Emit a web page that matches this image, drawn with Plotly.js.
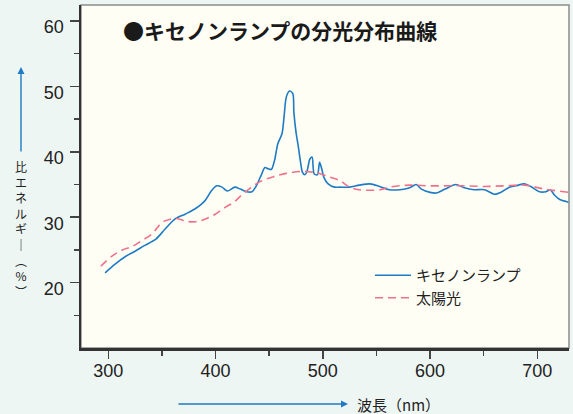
<!DOCTYPE html>
<html>
<head>
<meta charset="utf-8">
<script src="https://cdn.plot.ly/plotly-3.0.1.min.js"></script>
<style>
  html, body { margin: 0; padding: 0; background: #eef6f3; }
  #chart { width: 573px; height: 414px; }
</style>
</head>
<body>
<div id="chart"></div>
<script>
// Xenon lamp spectral distribution (wavelength nm, relative energy %)
const xenonNm = [297, 306, 316, 325, 334, 344, 353, 362, 372, 381,
                 390, 396, 401, 406, 411, 418, 423, 429, 434, 438,
                 443, 446, 449, 452, 455, 458, 462, 464, 466, 469,
                 472, 473, 475, 477, 479, 481, 483, 485, 488, 490,
                 492, 495, 497, 499, 501, 505, 511, 516, 525, 534,
                 544, 553, 562, 572, 581, 587, 592, 600, 606, 614,
                 624, 632, 641, 651, 660, 666, 674, 680, 688, 694,
                 702, 708, 712, 716, 721, 727, 729];
const xenonVal = [21.5, 22.8, 24.0, 24.8, 25.7, 26.6, 28.2, 29.7, 30.5, 31.3,
                  32.5, 34.0, 34.8, 34.6, 34.0, 34.6, 34.3, 33.9, 33.9, 34.8,
                  36.6, 37.6, 37.4, 37.3, 38.7, 41.2, 42.8, 45.6, 48.4, 49.3,
                  48.9, 46.1, 43.0, 41.0, 38.7, 36.9, 36.5, 36.9, 38.9, 39.2,
                  36.6, 36.5, 38.4, 37.4, 36.1, 35.1, 34.6, 34.6, 34.6, 34.9,
                  35.1, 34.7, 34.2, 34.2, 34.5, 35.0, 34.3, 33.8, 33.7, 34.3,
                  35.0, 34.5, 34.2, 34.2, 33.5, 33.8, 34.6, 34.8, 35.1, 34.7,
                  33.9, 33.9, 34.2, 33.4, 32.7, 32.4, 32.3];

// Sunlight spectral distribution
const sunNm = [293, 303, 313, 322, 331, 341, 350, 358, 364, 372,
               381, 390, 400, 409, 418, 423, 432, 441, 454, 466,
               482, 494, 507, 516, 525, 534, 553, 562, 581, 600,
               618, 632, 651, 669, 688, 707, 729];
const sunVal = [22.5, 24.0, 25.0, 25.5, 26.4, 27.5, 29.2, 29.7, 29.8, 29.4,
                29.3, 29.7, 30.5, 31.5, 32.4, 33.2, 34.4, 35.4, 36.2, 36.7,
                37.0, 36.8, 36.1, 35.6, 34.6, 34.2, 34.2, 34.6, 34.9, 34.8,
                34.8, 34.8, 34.7, 34.8, 34.9, 34.3, 33.8];

const seriesNames = ['キセノンランプ', '太陽光'];
const xTickVals = [300, 400, 500, 600, 700];
const xMinorVals = [350, 450, 550, 650];
const yTickVals = [20, 30, 40, 50, 60];
const yMinorVals = [15, 25, 35, 45, 55];
const titleText = '●キセノンランプの分光分布曲線';
// vertical writing: long-vowel mark and parentheses in vertical forms
const yTitleChars = ['比', 'エ', 'ネ', 'ル', 'ギ', '<b>｜</b>', '︵', '%', '︶'];
const xTitleText = '波長（nm）';

const JP = '"Noto Sans CJK JP", "Noto Sans", sans-serif';
const NUM = '"Liberation Sans", Arial, sans-serif';
const BLUE = '#1f7bc4';
const PINK = '#f0728a';
const TXT = '#222222';

const traces = [
  {
    x: xenonNm, y: xenonVal, name: seriesNames[0], type: 'scatter', mode: 'lines',
    line: { color: BLUE, width: 1.6, shape: 'spline', smoothing: 0.8 }
  },
  {
    x: sunNm, y: sunVal, name: seriesNames[1], type: 'scatter', mode: 'lines',
    line: { color: PINK, width: 1.6, dash: '8px,5px', shape: 'spline', smoothing: 1 }
  }
];

// layout geometry (pixels)
const W = 573, H = 414, mL = 81, mR = 4, mT = 5, mB = 66;
const pw = W - mL - mR, ph = H - mT - mB;
const px = v => (v - mL) / pw;
const py = v => (H - mB - v) / ph;

const annotations = [
  {
    text: '<b>' + titleText + '</b>', xref: 'paper', yref: 'paper',
    x: px(121), y: py(30), xanchor: 'left', yanchor: 'middle', showarrow: false,
    font: { family: JP, size: 21, color: '#1a1a1a' }
  },
  {
    text: xTitleText, xref: 'paper', yref: 'paper',
    x: px(356), y: py(404), xanchor: 'left', yanchor: 'middle', showarrow: false,
    height: 17, borderpad: 0,
    font: { family: JP, size: 15, color: TXT }
  },
  // x arrow
  {
    text: '', xref: 'paper', yref: 'paper', x: px(348), y: py(404),
    ax: -171, ay: 0, axref: 'pixel', ayref: 'pixel', showarrow: true,
    arrowhead: 2, arrowsize: 1, arrowwidth: 1.4, arrowcolor: BLUE
  },
  // y arrow
  {
    text: '', xref: 'paper', yref: 'paper', x: px(21), y: py(67),
    ax: 0, ay: 86, axref: 'pixel', ayref: 'pixel', showarrow: true,
    arrowhead: 2, arrowsize: 1, arrowwidth: 1.4, arrowcolor: BLUE
  },
  // y title, written vertically
  {
    text: yTitleChars.join('<br>'), xref: 'paper', yref: 'paper',
    x: px(21), y: py(229), xanchor: 'center', yanchor: 'middle', showarrow: false,
    align: 'center', borderpad: 0,
    font: { family: JP, size: 12, color: TXT }
  }
];

const layout = {
  width: W, height: H,
  margin: { l: mL, r: mR, t: mT, b: mB, pad: 0 },
  paper_bgcolor: '#eef6f3',
  plot_bgcolor: '#fefef5',
  showlegend: true,
  legend: {
    x: px(370), y: py(259), xanchor: 'left', yanchor: 'top', itemwidth: 36,
    bgcolor: 'rgba(0,0,0,0)', font: { family: JP, size: 15, color: TXT }
  },
  xaxis: {
    range: [274.5, 729.6], tickmode: 'array', tickvals: xTickVals,
    ticks: 'outside', ticklen: 8, tickwidth: 1.5, tickcolor: '#444',
    showline: true, linecolor: '#333', linewidth: 2.5,
    showgrid: false, zeroline: false, ticklabelstandoff: -3,
    tickfont: { family: NUM, size: 18, color: TXT },
    minor: { tickmode: 'array', tickvals: xMinorVals, ticks: 'outside', ticklen: 5, tickwidth: 1.5, tickcolor: '#444', showgrid: false }
  },
  yaxis: {
    range: [10, 62.45], tickmode: 'array', tickvals: yTickVals,
    ticks: 'outside', ticklen: 9, tickwidth: 1.5, tickcolor: '#444',
    showline: true, linecolor: '#333', linewidth: 2.5,
    showgrid: false, zeroline: false, ticklabelstandoff: 2, ticklabelshift: 6,
    tickfont: { family: NUM, size: 18, color: TXT },
    minor: { tickmode: 'array', tickvals: yMinorVals, ticks: 'outside', ticklen: 5, tickwidth: 1.5, tickcolor: '#444', showgrid: false }
  },
  shapes: [
    { type: 'rect', xref: 'paper', yref: 'paper', x0: 0, x1: 1, y0: 0, y1: 1,
      line: { color: '#8c8c8c', width: 1.5 }, layer: 'below' }
  ],
  annotations: annotations
};

Plotly.newPlot('chart', traces, layout, { staticPlot: true, displayModeBar: false });
</script>
</body>
</html>
